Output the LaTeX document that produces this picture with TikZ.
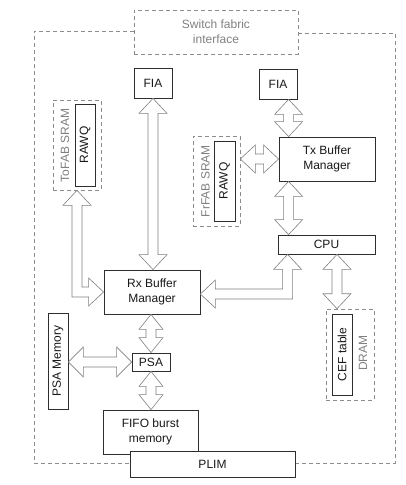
\documentclass[tikz,border=0pt]{standalone}
\usepackage{fontspec}
\setmainfont{Liberation Sans}
\usetikzlibrary{calc}
\definecolor{boxc}{gray}{0.18}
\definecolor{txtc}{gray}{0.1}
\definecolor{dashc}{gray}{0.55}
\definecolor{graytxt}{gray}{0.5}
\definecolor{arrc}{gray}{0.5}
\newcommand\vfat[3][14]{\draw[fat] (#2) -- ($(#2)+(#1,15)$) -- ($(#2)+(5,15)$) -- ($(#3)+(5,-15)$) -- ($(#3)+(#1,-15)$) -- (#3) -- ($(#3)+(-#1,-15)$) -- ($(#3)+(-5,-15)$) -- ($(#2)+(-5,15)$) -- ($(#2)+(-#1,15)$) -- cycle;}
\newcommand\hfat[3][14]{\draw[fat] (#2) -- ($(#2)+(15,-#1)$) -- ($(#2)+(15,-5)$) -- ($(#3)+(-15,-5)$) -- ($(#3)+(-15,-#1)$) -- (#3) -- ($(#3)+(-15,#1)$) -- ($(#3)+(-15,5)$) -- ($(#2)+(15,5)$) -- ($(#2)+(15,#1)$) -- cycle;}
\begin{document}
\begin{tikzpicture}[x=1pt,y=-1pt,
  box/.style={draw=boxc,line width=0.8pt,fill=white,inner sep=0pt,align=center,text=txtc,font=\fontsize{12}{14.5}\selectfont},
  dbox/.style={draw=dashc,line width=0.6pt,dash pattern=on 4pt off 3pt,inner sep=0pt},
  glabel/.style={text=graytxt,font=\fontsize{12}{15}\selectfont,inner sep=0pt},
  fat/.style={draw=arrc,fill=white,line width=0.6pt,line join=miter}]
\useasboundingbox (0,0) rectangle (405,485);
% outer frame
\coordinate (oTL) at (34,31);
\coordinate (oBL) at (34,463);
\coordinate (oBR) at (395,463);
\coordinate (oTR) at (395,33);
\node[dbox,minimum width=164pt,minimum height=44pt,align=center,text=graytxt,font=\fontsize{12}{15}\selectfont] (sfi) at (216,32) {Switch fabric\\interface};
\node[box,minimum width=165pt,minimum height=26pt,draw=none,fill=none,text opacity=0] (plimref) at (212.5,464) {};
\draw[dashc,line width=0.6pt,dash pattern=on 4pt off 3pt] (sfi.west |- oTL) -- (oTL) -- (oBL) -- (plimref.west |- oBL);
\draw[dashc,line width=0.6pt,dash pattern=on 4pt off 3pt] (plimref.east |- oBR) -- (oBR) -- (oTR) -- (sfi.east |- oTR);
% nodes
\node[box,minimum width=38pt,minimum height=30pt] (fiaL) at (153,83) {FIA};
\node[box,minimum width=38pt,minimum height=30pt] (fiaR) at (278,84) {FIA};
\node[dbox,minimum width=48pt,minimum height=90pt] (tofab) at (77,145) {};
\node[glabel,rotate=90] (tofabl) at (65,145.5) {ToFAB SRAM};
\node[box,rotate=90,minimum width=82pt,minimum height=20pt] (rawqA) at (85,145) {RAWQ};
\node[dbox,minimum width=47pt,minimum height=90pt] (frfab) at (216.5,181) {};
\node[glabel,rotate=90] (frfabl) at (205.5,181) {FrFAB SRAM};
\node[box,rotate=90,minimum width=80pt,minimum height=21pt] (rawqB) at (224.5,181) {RAWQ};
\node[box,minimum width=96pt,minimum height=44pt] (tx) at (327,159) {Tx Buffer\\Manager};
\node[box,minimum width=97pt,minimum height=19pt] (cpu) at (326.5,244.5) {CPU};
\node[box,minimum width=96pt,minimum height=44pt] (rx) at (152,292) {Rx Buffer\\Manager};
\node[box,rotate=90,minimum width=96pt,minimum height=20pt] (psamem) at (58,361) {PSA Memory};
\node[box,minimum width=38pt,minimum height=18pt] (psa) at (151,362) {PSA};
\node[box,minimum width=95pt,minimum height=44pt] (fifo) at (150.5,432) {FIFO burst\\memory};
\node[box,minimum width=165pt,minimum height=26pt] (plim) at (212.5,464) {PLIM};
\node[dbox,minimum width=48pt,minimum height=91pt] (dram) at (350,354.5) {};
\node[glabel,rotate=90] (draml) at (363,353) {DRAM};
\node[box,rotate=90,minimum width=81pt,minimum height=20pt] (cef) at (342,354.5) {CEF table};
% connector end points
\coordinate (a1t) at (fiaL.south);
\coordinate (a1b) at (fiaL.south |- rx.north);
\coordinate (a2b) at ($(tx.north west)+(10,0)$);
\coordinate (a2t) at (a2b |- fiaR.south);
\coordinate (a3t) at ($(tx.south west)+(10,0)$);
\coordinate (a3b) at (a3t |- cpu.north);
\coordinate (a4b) at ($(dram.north)+(-13,0)$);
\coordinate (a4t) at (a4b |- cpu.south);
\coordinate (a5t) at (psa.north |- rx.south);
\coordinate (a5b) at (psa.north);
\coordinate (a6t) at (psa.south);
\coordinate (a6b) at (psa.south |- fifo.north);
\coordinate (h1l) at (frfab.east |- tx.west);
\coordinate (h1r) at (tx.west);
\coordinate (h2l) at (psamem.south |- psa.west);
\coordinate (h2r) at (psa.west);
% connectors
\vfat{a1t}{a1b}
\vfat{a2t}{a2b}
\vfat{a3t}{a3b}
\vfat{a4t}{a4b}
\vfat[12]{a5t}{a5b}
\vfat[12]{a6t}{a6b}
\hfat{h1l}{h1r}
\hfat[15]{h2l}{h2r}
% elbow ToFAB SRAM -> Rx
\coordinate (e1t) at (tofab.south);
\coordinate (e1r) at (rx.west);
\coordinate (e1c) at (e1t |- e1r);
\draw[fat] (e1t) -- ++(14,15) -- ++(-9,0) -- ($(e1c)+(5,-5)$) -- ($(e1r)+(-15,-5)$) -- ++(0,-9) -- (e1r) -- ++(-15,14) -- ++(0,-9) -- ($(e1c)+(-5,5)$) -- ($(e1t)+(-5,15)$) -- ++(-9,0) -- cycle;
% elbow CPU -> Rx
\coordinate (e2t) at ($(cpu.south west)+(10,0)$);
\coordinate (e2l) at ($(rx.east)+(0,2)$);
\coordinate (e2c) at (e2t |- e2l);
\draw[fat] (e2t) -- ++(14,15) -- ++(-9,0) -- ($(e2c)+(5,5)$) -- ($(e2l)+(15,5)$) -- ++(0,9) -- (e2l) -- ++(15,-14) -- ++(0,9) -- ($(e2c)+(-5,-5)$) -- ($(e2t)+(-5,15)$) -- ++(-9,0) -- cycle;
\end{tikzpicture}
\end{document}
